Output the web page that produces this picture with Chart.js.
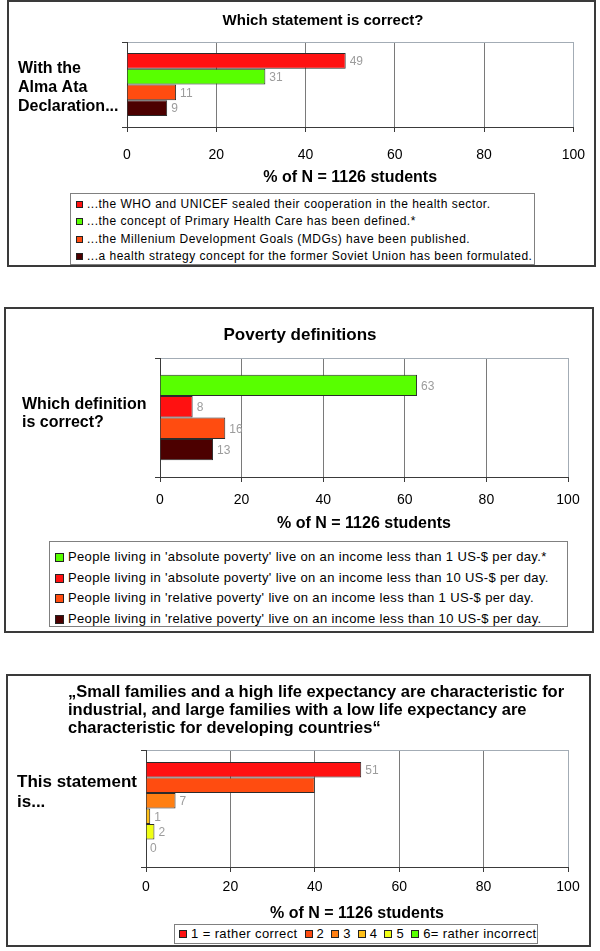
<!DOCTYPE html>
<html>
<head>
<meta charset="utf-8">
<script src="https://cdn.jsdelivr.net/npm/chart.js@4.4.1/dist/chart.umd.min.js"></script>
<style>
  body { margin: 0; width: 600px; height: 951px; background: #fff; position: relative; overflow: hidden;
         font-family: "Liberation Sans", Arial, sans-serif; color: #000; }
  .panel { position: absolute; border: 2px solid #3a3a3a; box-sizing: border-box; }
  canvas { position: absolute; left: 0; }
  .title { position: absolute; font-weight: bold; white-space: nowrap; line-height: 18px; }
  .legend { position: absolute; border: 1px solid #808080; box-sizing: border-box; background: #fff; white-space: nowrap; }
  .legend .item { display: flex; align-items: center; }
  .swatch { display: inline-block; border: 1px solid #222; box-sizing: border-box; flex: none; }
</style>
</head>
<body>
<div class="panel" style="left:7px;top:0;width:589px;height:267px"></div>
<div class="panel" style="left:4px;top:307px;width:590px;height:326px"></div>
<div class="panel" style="left:6px;top:674px;width:585px;height:273px"></div>

<canvas id="almaChart" width="600" height="191" style="top:0"></canvas>
<canvas id="povertyChart" width="600" height="237" style="top:300px"></canvas>
<canvas id="familyChart" width="600" height="227" style="top:700px"></canvas>

<div class="title" style="left:323px;top:11px;font-size:15px;transform:translateX(-50%)">Which statement is correct?</div>
<div class="title" style="left:300px;top:326px;font-size:17px;transform:translateX(-50%)">Poverty definitions</div>
<div class="title" style="left:68px;top:682px;font-size:16.5px">„Small families and a high life expectancy are characteristic for<br>industrial, and large families with a low life expectancy are<br>characteristic for developing countries“</div>

<div class="legend" id="almaLegend" style="left:70px;top:193px;width:465px;height:72px;padding-top:2px;font-size:12px;letter-spacing:0.5px;line-height:17.3px"></div>
<div class="legend" id="povertyLegend" style="left:49px;top:541px;width:519px;height:86px;padding-top:5px;font-size:13px;letter-spacing:0.35px;line-height:20.7px"></div>
<div class="legend" id="familyLegend" style="left:174px;top:924px;width:364px;height:20px;font-size:13px;letter-spacing:0.4px;line-height:18px;display:flex;align-items:center"></div>

<script>
const axisTitle = '% of N = 1126 students';

const almaQuestion = ['With the', 'Alma Ata', 'Declaration...'];
const almaOptions = [
  '...the WHO and UNICEF sealed their cooperation in the health sector.',
  '...the concept of Primary Health Care has been defined.*',
  '...the Millenium Development Goals (MDGs) have been published.',
  '...a health strategy concept for the former Soviet Union has been formulated.'
];
const almaValues = [49, 31, 11, 9];
const almaColors = ['#ff1111', '#58ff00', '#ff4c10', '#4c0000'];

const povertyQuestion = ['Which definition', 'is correct?'];
const povertyOptions = [
  "People living in 'absolute poverty' live on an income less than 1 US-$ per day.*",
  "People living in 'absolute poverty' live on an income less than 10 US-$ per day.",
  "People living in 'relative poverty' live on an income less than 1 US-$ per day.",
  "People living in 'relative poverty' live on an income less than 10 US-$ per day."
];
const povertyValues = [63, 8, 16, 13];
const povertyColors = ['#58ff00', '#ff1111', '#ff4c10', '#4c0000'];

const familyQuestion = ['This statement', 'is...'];
const familyOptions = ['1 = rather correct', '2', '3', '4', '5', '6= rather incorrect'];
const familyValues = [51, 40, 7, 1, 2, 0];
const familyShowValue = [true, false, true, true, true, true];
const familyColors = ['#ff1111', '#ff4c10', '#ff7f12', '#ffc018', '#f0ff14', '#58ff00'];

const xTicks = [0, 20, 40, 60, 80, 100];

Chart.defaults.font.family = '"Liberation Sans", Arial, sans-serif';

const valueLabels = {
  id: 'valueLabels',
  afterDatasetsDraw(chart, args, opts) {
    const ctx = chart.ctx;
    ctx.save();
    ctx.font = '12px "Liberation Sans", Arial, sans-serif';
    ctx.fillStyle = '#9c9c9c';
    ctx.textBaseline = 'middle';
    chart.data.datasets.forEach((ds, i) => {
      if (opts.show && !opts.show[i]) return;
      const bar = chart.getDatasetMeta(i).data[0];
      ctx.fillText(String(ds.data[0]), bar.x + 4, bar.y + 1);
    });
    ctx.restore();
  }
};

function makeChart(id, p) {
  return new Chart(document.getElementById(id), {
    type: 'bar',
    data: {
      labels: [p.question],
      datasets: p.values.map((v, i) => ({
        label: p.options[i],
        data: [v],
        backgroundColor: p.colors[i],
        borderColor: '#2b2b2b',
        borderWidth: 1,
        categoryPercentage: p.catPct,
        barPercentage: 1
      }))
    },
    options: {
      indexAxis: 'y',
      responsive: false,
      animation: false,
      events: [],
      layout: { padding: p.padding },
      plugins: {
        legend: { display: false },
        tooltip: { enabled: false },
        valueLabels: { show: p.show }
      },
      scales: {
        x: {
          min: xTicks[0],
          max: xTicks[xTicks.length - 1],
          afterBuildTicks: s => { s.ticks = xTicks.map(v => ({ value: v })); },
          ticks: { color: '#000', font: { size: 14 }, padding: p.tickPad, maxRotation: 0 },
          grid: {
            color: c => (c.tick && c.tick.value === 100) ? '#a3acb5' : '#7a7a7a',
            tickColor: '#3a3a3a',
            tickLength: 5
          },
          border: { color: '#3a3a3a' },
          title: { display: true, text: axisTitle, color: '#000', font: { size: 16, weight: 'bold' } },
          afterFit: s => { s.height = p.xHeight; }
        },
        y: {
          ticks: {
            crossAlign: 'far',
            color: '#000',
            font: { size: p.qSize, weight: 'bold', lineHeight: 1.17 },
            labelOffset: p.qShift
          },
          grid: {
            color: c => c.index === 0 ? '#a3acb5' : '#3a3a3a',
            tickColor: '#3a3a3a',
            tickLength: 5
          },
          border: { color: '#3a3a3a' },
          afterFit: s => { s.width = p.yWidth; }
        }
      }
    },
    plugins: [valueLabels]
  });
}

function renderLegend(id, labels, colors, size, gap, row) {
  const box = document.getElementById(id);
  box.innerHTML = '';
  labels.forEach((text, i) => {
    const item = document.createElement('div');
    item.className = 'item';
    if (row) item.style.marginRight = '3px';
    item.innerHTML = `<span class="swatch" style="width:${size}px;height:${size}px;background:${colors[i]};margin-left:${row ? 4 : 5}px;margin-right:${gap}px"></span><span>${text}</span>`;
    box.appendChild(item);
  });
}

makeChart('almaChart', {
  question: almaQuestion, options: almaOptions, values: almaValues, colors: almaColors,
  catPct: 0.74, padding: { left: 18, top: 42, right: 17, bottom: 0 },
  yWidth: 109, xHeight: 64, tickPad: 15, qSize: 16, qShift: 3
});
makeChart('povertyChart', {
  question: povertyQuestion, options: povertyOptions, values: povertyValues, colors: povertyColors,
  catPct: 0.72, padding: { left: 22, top: 58, right: 32, bottom: 0 },
  yWidth: 138, xHeight: 60, tickPad: 10, qSize: 16, qShift: -4
});
makeChart('familyChart', {
  question: familyQuestion, options: familyOptions, values: familyValues, colors: familyColors,
  show: familyShowValue,
  catPct: 0.795, padding: { left: 17, top: 50, right: 32, bottom: 0 },
  yWidth: 129, xHeight: 60, tickPad: 7, qSize: 17, qShift: -16
});

renderLegend('almaLegend', almaOptions, almaColors, 7, 4, false);
renderLegend('povertyLegend', povertyOptions, povertyColors, 9, 4, false);
renderLegend('familyLegend', familyOptions, familyColors, 8, 4, true);
</script>
</body>
</html>
